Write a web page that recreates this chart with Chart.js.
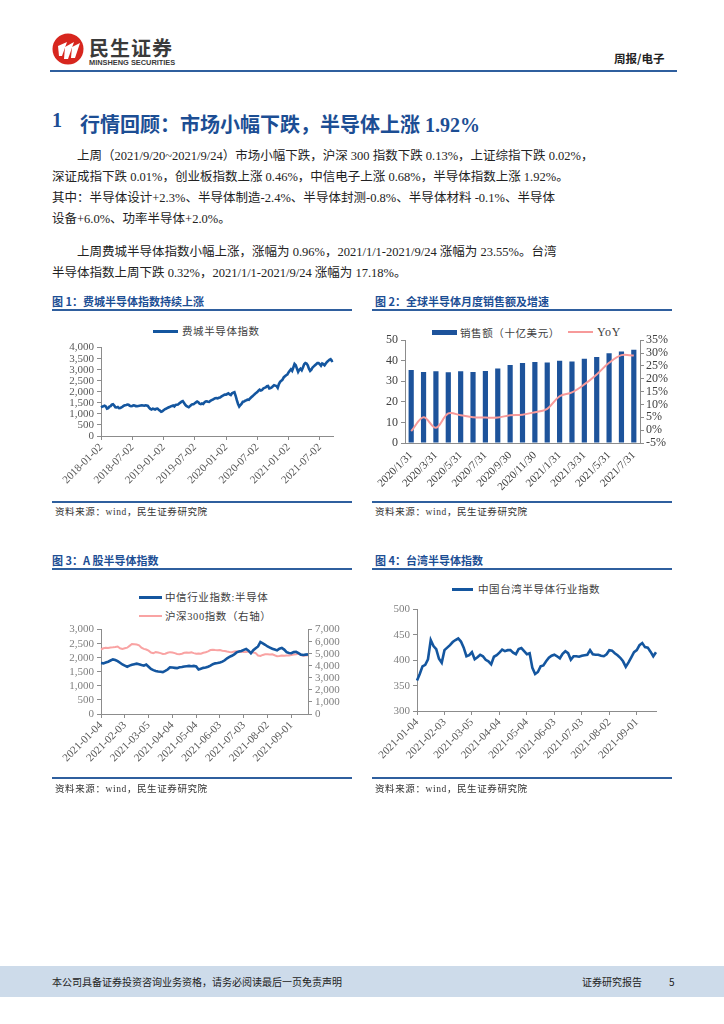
<!DOCTYPE html>
<html>
<head>
<meta charset="utf-8">
<script src="https://cdn.jsdelivr.net/npm/chart.js@4.4.0/dist/chart.umd.min.js"></script>
<style>
  body { margin: 0; width: 724px; height: 1024px; background: #fff; position: relative; overflow: hidden;
         font-family: "Liberation Serif", "Noto Sans CJK SC", serif; color: #333; }
  .abs { position: absolute; white-space: nowrap; }
  .figtitle { font-family: "Noto Sans CJK SC", sans-serif; font-weight: 700; font-size: 11px; color: #1c4e94; }
  .rule { position: absolute; height: 2px; background: #2f5f9e; }
  .src { font-family: "Liberation Serif", "Noto Sans CJK SC", serif; font-size: 9.5px; letter-spacing: 0.6px; color: #333; }
  .leg { font-family: "Liberation Serif", "Noto Sans CJK SC", serif; font-size: 10.5px; letter-spacing: 0.6px; color: #404040; }
  .body-line { position: absolute; left: 52px; width: 503px; font-size: 12.5px; line-height: 21px; color: #222;
               text-align: justify; text-align-last: justify; white-space: nowrap; }
  .body-line.last { text-align-last: left; }
  canvas { position: absolute; }
</style>
</head>
<body>

<!-- header -->
<svg class="abs" style="left:52px;top:33px" width="32" height="32" viewBox="0 0 32 32">
  <circle cx="16" cy="16" r="15.5" fill="#d7261e"/>
  <path d="M6 13 L15 9 L10 23 L7 23 Z" fill="#fff"/>
  <path d="M13 14 L22 9 L16 26 L12 26 Z" fill="#fff"/>
  <path d="M20 14 L28 10 L23 25 L19 25 Z" fill="#fff"/>
</svg>
<div class="abs" style="left:89px;top:33px;font-family:'Noto Sans CJK SC';font-weight:700;font-size:20px;letter-spacing:1px;color:#3a3a3a">民生证券</div>
<div class="abs" style="left:89px;top:58px;font-family:'Liberation Sans';font-weight:700;font-size:7.4px;color:#3a3a3a">MINSHENG SECURITIES</div>
<div class="abs" style="left:614px;top:50px;font-family:'Noto Sans CJK SC';font-weight:700;font-size:11.5px;color:#222">周报/电子</div>
<div class="rule" style="left:50px;top:70px;width:627px;height:2px"></div>

<!-- section title -->
<div class="abs" style="left:52px;top:109px;font-family:'Liberation Serif','Noto Sans CJK SC';font-weight:700;font-size:20px;color:#1c4e94">1</div>
<div class="abs" style="left:80px;top:109px;font-family:'Liberation Serif','Noto Sans CJK SC';font-weight:700;font-size:20px;color:#1c4e94">行情回顾：市场小幅下跌，半导体上涨 1.92%</div>

<!-- body text -->
<div class="body-line" style="top:146px;left:77px;width:478px">上周（2021/9/20~2021/9/24）市场小幅下跌，沪深 300 指数下跌 0.13%，上证综指下跌 0.02%，</div>
<div class="body-line" style="top:167px">深证成指下跌 0.01%，创业板指数上涨 0.46%，中信电子上涨 0.68%，半导体指数上涨 1.92%。</div>
<div class="body-line" style="top:188px">其中：半导体设计+2.3%、半导体制造-2.4%、半导体封测-0.8%、半导体材料 -0.1%、半导体</div>
<div class="body-line last" style="top:209px">设备+6.0%、功率半导体+2.0%。</div>
<div class="body-line" style="top:242px;left:77px;width:478px">上周费城半导体指数小幅上涨，涨幅为 0.96%，2021/1/1-2021/9/24 涨幅为 23.55%。台湾</div>
<div class="body-line last" style="top:263px">半导体指数上周下跌 0.32%，2021/1/1-2021/9/24 涨幅为 17.18%。</div>

<!-- figure 1 -->
<div class="abs figtitle" style="left:52px;top:293px">图 1：费城半导体指数持续上涨</div>
<div class="rule" style="left:52px;top:309px;width:300px"></div>
<div class="abs" style="left:153px;top:330px;width:25px;height:3px;background:#14569f"></div>
<div class="abs leg" style="left:182px;top:323px">费城半导体指数</div>
<canvas id="fig1" width="290" height="160" style="left:50px;top:338px"></canvas>
<div class="rule" style="left:52px;top:501px;width:300px"></div>
<div class="abs src" style="left:55px;top:504px">资料来源：wind，民生证券研究院</div>

<!-- figure 2 -->
<div class="abs figtitle" style="left:375px;top:293px">图 2：全球半导体月度销售额及增速</div>
<div class="rule" style="left:372px;top:309px;width:300px"></div>
<div class="abs" style="left:432px;top:330px;width:25px;height:5px;background:#1d539b"></div>
<div class="abs leg" style="left:460px;top:325px">销售额（十亿美元）</div>
<div class="abs" style="left:568px;top:331px;width:25px;height:2px;background:#f79a9a"></div>
<div class="abs leg" style="left:597px;top:325px;font-size:12px">YoY</div>
<canvas id="fig2" width="312" height="165" style="left:370px;top:330px"></canvas>
<div class="rule" style="left:372px;top:501px;width:300px"></div>
<div class="abs src" style="left:375px;top:504px">资料来源：wind，民生证券研究院</div>

<!-- figure 3 -->
<div class="abs figtitle" style="left:52px;top:552px">图 3：A 股半导体指数</div>
<div class="rule" style="left:52px;top:568px;width:300px"></div>
<div class="abs" style="left:139px;top:596px;width:23px;height:3px;background:#14569f"></div>
<div class="abs leg" style="left:165px;top:589px">中信行业指数:半导体</div>
<div class="abs" style="left:139px;top:615px;width:23px;height:2px;background:#f9a3a3"></div>
<div class="abs leg" style="left:165px;top:608px">沪深300指数（右轴）</div>
<canvas id="fig3" width="295" height="158" style="left:55px;top:620px"></canvas>
<div class="rule" style="left:52px;top:777px;width:300px"></div>
<div class="abs src" style="left:55px;top:781px">资料来源：wind，民生证券研究院</div>

<!-- figure 4 -->
<div class="abs figtitle" style="left:375px;top:552px">图 4：台湾半导体指数</div>
<div class="rule" style="left:372px;top:568px;width:300px"></div>
<div class="abs" style="left:452px;top:588px;width:21px;height:3px;background:#14569f"></div>
<div class="abs leg" style="left:478px;top:581px">中国台湾半导体行业指数</div>
<canvas id="fig4" width="300" height="176" style="left:370px;top:600px"></canvas>
<div class="rule" style="left:372px;top:777px;width:300px"></div>
<div class="abs src" style="left:375px;top:781px">资料来源：wind，民生证券研究院</div>

<!-- footer -->
<div class="abs" style="left:0;top:966px;width:724px;height:31px;background:#cddbea"></div>
<div class="abs" style="left:52px;top:974px;font-family:'Noto Sans CJK SC';font-size:10px;color:#222">本公司具备证券投资咨询业务资格，请务必阅读最后一页免责声明</div>
<div class="abs" style="left:582px;top:974px;font-family:'Noto Sans CJK SC';font-size:10px;color:#222">证券研究报告</div>
<div class="abs" style="left:669px;top:974px;font-family:'Noto Sans CJK SC';font-size:10px;color:#222">5</div>

<script>
// ---- Fig 1: Philadelphia semiconductor index, weekly, 2018-01 .. 2021-09-24
const fig1TickLabels = ['2018-01-02', '2018-07-02', '2019-01-02', '2019-07-02',
                        '2020-01-02', '2020-07-02', '2021-01-02', '2021-07-02'];
const fig1Values = [
    // 2018
    1300, 1330, 1350, 1370, 1340, 1240, 1260, 1330, 1350, 1420, 1440, 1380, 1300,
    1290, 1310, 1260, 1270, 1300, 1330, 1370, 1390, 1400, 1420, 1410, 1370, 1350,
    1360, 1390, 1380, 1350, 1350, 1360, 1370, 1380, 1390, 1380, 1370, 1390, 1380,
    1360, 1280, 1230, 1200, 1240, 1220, 1200, 1230, 1240, 1190, 1150, 1100, 1120,
    // 2019
    1160, 1210, 1230, 1260, 1290, 1310, 1340, 1360, 1380, 1340, 1400, 1410, 1420,
    1470, 1510, 1560, 1580, 1500, 1420, 1360, 1330, 1300, 1350, 1400, 1440, 1440,
    1480, 1520, 1560, 1530, 1460, 1440, 1470, 1450, 1520, 1560, 1570, 1550, 1540,
    1590, 1620, 1650, 1680, 1710, 1720, 1700, 1730, 1740, 1780, 1810, 1850, 1870,
    // 2020
    1870, 1900, 1930, 1880, 1850, 1930, 1960, 1980, 1820, 1620, 1450, 1330, 1400,
    1460, 1550, 1560, 1600, 1620, 1650, 1640, 1700, 1750, 1800, 1850, 1900, 1950,
    1990, 2050, 2100, 2060, 2080, 2150, 2180, 2200, 2250, 2260, 2150, 2170, 2200,
    2250, 2300, 2280, 2260, 2180, 2350, 2450, 2500, 2550, 2650, 2700, 2750, 2780,
    // 2021
    2880, 2950, 3020, 2950, 3100, 3260, 3200, 3050, 2900, 3000, 3050, 2980, 3100,
    3250, 3300, 3280, 3200, 3050, 2950, 3000, 3100, 3150, 3200, 3250, 3300, 3300,
    3250, 3180, 3280, 3250, 3200, 3280, 3350, 3400, 3450, 3480, 3400, 3420
];

// ---- Fig 2: global semiconductor monthly sales and YoY
const fig2Months = ['2020/1/31', '2020/2/29', '2020/3/31', '2020/4/30', '2020/5/31', '2020/6/30',
                    '2020/7/31', '2020/8/31', '2020/9/30', '2020/10/31', '2020/11/30', '2020/12/31',
                    '2021/1/31', '2021/2/28', '2021/3/31', '2021/4/30', '2021/5/31', '2021/6/30', '2021/7/31'];
const fig2Sales = [35.5, 34.5, 34.9, 34.4, 34.9, 34.5, 35.0, 36.2, 37.9, 38.9,
                   39.4, 39.2, 40.0, 39.6, 41.0, 41.8, 43.6, 44.5, 45.4];
const fig2Yoy = [-0.4, 5.0, 0.9, 6.5, 5.8, 5.0, 4.9, 4.9, 5.8, 6.0,
                 7.0, 8.3, 13.2, 14.7, 17.8, 21.7, 26.2, 29.2, 29.0];

// ---- Fig 3 / Fig 4: every 3 calendar days from 2021-01-04
const fig34TickLabels = ['2021-01-04', '2021-02-03', '2021-03-05', '2021-04-04', '2021-05-04',
                         '2021-06-03', '2021-07-03', '2021-08-02', '2021-09-01'];
const fig3Semi = [
    1810, 1800, 1830, 1860, 1900, 1940, 1920, 1880, 1820, 1760,
    1720, 1680, 1720, 1750, 1770, 1790, 1770, 1740, 1720, 1760,
    1680, 1600, 1560, 1530, 1510, 1500, 1490, 1530, 1580, 1660,
    1650, 1640, 1630, 1660, 1670, 1690, 1700, 1710, 1700, 1710,
    1690, 1580, 1610, 1640, 1650, 1680, 1720, 1770, 1800, 1810,
    1830, 1860, 1910, 1980, 2030, 2070, 2120, 2190, 2220, 2240,
    2280, 2310, 2250, 2160, 2270, 2340, 2400, 2560, 2510, 2460,
    2400, 2360, 2320, 2290, 2260, 2320, 2350, 2290, 2200, 2170,
    2160, 2200, 2210, 2160, 2110, 2100, 2110, 2120
];
const fig3Hs300 = [
    5350, 5450, 5500, 5480, 5520, 5530, 5560, 5600, 5450, 5400,
    5450, 5500, 5650, 5800, 5780, 5760, 5700, 5500, 5400, 5350,
    5250, 5100, 5050, 5130, 5100, 5050, 4980, 5000, 5080, 5130,
    5100, 5050, 4980, 4950, 5000, 5080, 5100, 5090, 5110, 5050,
    5000, 5020, 5000, 5080, 5120, 5200, 5300, 5320, 5300, 5290,
    5300, 5250, 5220, 5180, 5150, 5130, 5180, 5200, 5170, 5160,
    5140, 5150, 5180, 5120, 5100, 5050, 4850, 4810, 4900, 4950,
    4950, 4940, 4950, 4870, 4800, 4810, 4850, 4830, 4850, 4860,
    4900, 4940, 4950, 4990, 4900, 4840, 4860, 4870
];
const fig4Taiwan = [
    360, 373, 388, 391, 402, 440, 428, 422, 403, 395,
    420, 425, 430, 436, 440, 443, 437, 425, 408, 410,
    416, 402, 406, 411, 408, 401, 398, 392, 407, 410,
    415, 421, 418, 420, 420, 415, 412, 422, 424, 418,
    412, 414, 385, 373, 377, 388, 390, 398, 405, 409,
    411, 408, 404, 413, 418, 414, 401, 408, 408, 407,
    409, 410, 411, 420, 412, 411, 411, 409, 408, 412,
    420, 419, 414, 410, 405, 398, 387, 396, 406, 416,
    420, 430, 434, 426, 425, 417, 408, 416
];

// labels on every tick position, blank elsewhere
const fig1Labels = fig1Values.map((v, i) => i % 26 === 0 ? (fig1TickLabels[i / 26] || '') : '');
const fig34Labels = fig3Semi.map((v, i) => i % 10 === 0 ? (fig34TickLabels[i / 10] || '') : '');

const AXIS = '#8c8c8c';
const TICK = { family: 'Liberation Serif', size: 11 };
const GRID = { display: true, drawOnChartArea: false, drawTicks: true, tickLength: 4, color: AXIS };
const BASE = {
    responsive: false,
    animation: false,
    locale: 'en-US',
    plugins: { legend: { display: false }, tooltip: { enabled: false } }
};

function dateAxis(labels, height) {
    return {
        grid: GRID,
        border: { color: AXIS },
        ticks: {
            autoSkip: false, minRotation: 45, maxRotation: 45, padding: 1,
            font: TICK, color: '#595959',
            callback: (v, i) => labels[i] || null
        },
        afterFit: s => { s.height = height; }
    };
}

function valueAxis(min, max, step, width, color, extra) {
    return Object.assign({
        min: min, max: max,
        grid: GRID, border: { color: AXIS },
        ticks: { stepSize: step, autoSkip: false, font: TICK, color: color, padding: 3 },
        afterFit: s => { s.width = width; }
    }, extra || {});
}

// Fig 1
new Chart(document.getElementById('fig1'), {
    type: 'line',
    data: {
        labels: fig1Labels,
        datasets: [{ data: fig1Values, borderColor: '#14569f', borderWidth: 2.6, pointRadius: 0, tension: 0 }]
    },
    options: {
        ...BASE,
        layout: { padding: { top: 8, right: 7 } },
        scales: {
            x: dateAxis(fig1Labels, 62),
            y: valueAxis(0, 4000, 500, 51, '#595959')
        }
    }
});

// Fig 2
const fig2Font = { family: 'Liberation Serif', size: 12 };
new Chart(document.getElementById('fig2'), {
    type: 'bar',
    data: {
        labels: fig2Months,
        datasets: [
            { type: 'line', data: fig2Yoy, yAxisID: 'y1', borderColor: '#f79a9a', borderWidth: 2,
              pointRadius: 0, tension: 0.35, order: 0 },
            { type: 'bar', data: fig2Sales, yAxisID: 'y', backgroundColor: '#1d539b',
              barPercentage: 0.42, categoryPercentage: 1, order: 1 }
        ]
    },
    options: {
        ...BASE,
        layout: { padding: { top: 7 } },
        scales: {
            x: {
                grid: { ...GRID, display: false }, border: { color: AXIS },
                ticks: {
                    autoSkip: false, minRotation: 45, maxRotation: 45, padding: 2,
                    font: TICK, color: '#404040',
                    callback: (v, i) => i % 2 === 0 ? fig2Months[i] : ''
                },
                afterFit: s => { s.height = 52; }
            },
            y: {
                min: 0, max: 50,
                grid: GRID, border: { color: AXIS },
                ticks: { stepSize: 10, autoSkip: false, font: fig2Font, color: '#404040', padding: 3 },
                afterFit: s => { s.width = 35; }
            },
            y1: {
                position: 'right', min: -5, max: 35,
                grid: GRID, border: { color: AXIS },
                ticks: { stepSize: 5, autoSkip: false, font: fig2Font, color: '#404040', padding: 2,
                         callback: v => v + '%' },
                afterFit: s => { s.width = 42; }
            }
        }
    }
});

// Fig 3
new Chart(document.getElementById('fig3'), {
    type: 'line',
    data: {
        labels: fig34Labels,
        datasets: [
            { data: fig3Semi, yAxisID: 'y', borderColor: '#14569f', borderWidth: 2.6, pointRadius: 0, order: 0 },
            { data: fig3Hs300, yAxisID: 'y1', borderColor: '#f9a3a3', borderWidth: 2, pointRadius: 0, order: 1 }
        ]
    },
    options: {
        ...BASE,
        layout: { padding: { top: 8 } },
        scales: {
            x: dateAxis(fig34Labels, 64),
            y: valueAxis(0, 3000, 500, 46, '#7f7f7f'),
            y1: valueAxis(0, 7000, 1000, 42, '#7f7f7f', { position: 'right' })
        }
    }
});

// Fig 4
new Chart(document.getElementById('fig4'), {
    type: 'line',
    data: {
        labels: fig34Labels,
        datasets: [{ data: fig4Taiwan, borderColor: '#14569f', borderWidth: 2.6, pointRadius: 0 }]
    },
    options: {
        ...BASE,
        layout: { padding: { top: 8, right: 14 } },
        scales: {
            x: dateAxis(fig34Labels, 65),
            y: valueAxis(300, 500, 50, 47, '#7f7f7f')
        }
    }
});
</script>
</body>
</html>
